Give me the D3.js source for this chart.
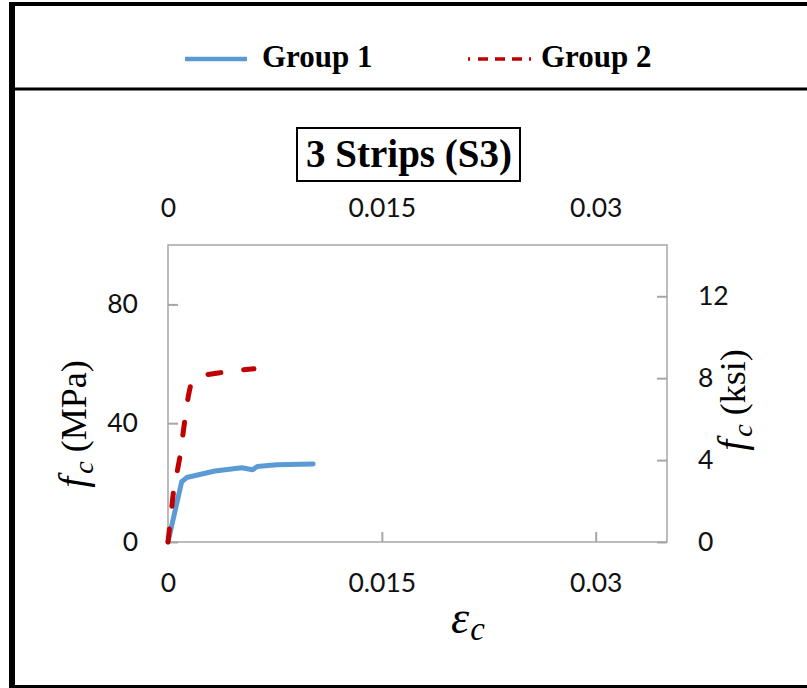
<!DOCTYPE html>
<html>
<head>
<meta charset="utf-8">
<script src="https://cdn.jsdelivr.net/npm/d3@7"></script>
<style>
  html, body { margin: 0; padding: 0; background: #fff; }
  svg { display: block; }
</style>
</head>
<body>
<svg id="chart" width="807" height="688"></svg>
<script>
// ---- Data ----
const seriesNames = ["Group 1", "Group 2"];
const strainG1 = [0, 0.00096, 0.00131, 0.00329, 0.00517, 0.00594, 0.00626, 0.00762, 0.01018];
const stressG1 = [0, 20.3, 21.7, 23.9, 25.0, 24.3, 25.4, 26.0, 26.3];
const strainG2 = [0, 0.00037, 0.00084, 0.00112, 0.00142, 0.00159, 0.00224, 0.00353, 0.00482, 0.00603];
const stressG2 = [0, 16.4, 28.8, 38.9, 49.0, 52.9, 56.0, 56.9, 57.8, 58.3];
const xTicks = [0, 0.015, 0.03];
const xTickLabels = ["0", "0.015", "0.03"];
const yTicksMPa = [0, 40, 80];
const yTicksKsi = [0, 4, 8, 12];
const titleText = "3 Strips (S3)";
const MPA_PER_KSI = 6.895;

// ---- Layout ----
const svg = d3.select("#chart");
const plot = { left: 168, top: 245, right: 667, bottom: 542 };
const x = d3.scaleLinear().domain([0, 0.035]).range([plot.left, plot.right]);
const y = d3.scaleLinear().domain([0, 100]).range([plot.bottom, plot.top]);
const yK = d3.scaleLinear().domain([0, 100 / MPA_PER_KSI]).range([plot.bottom, plot.top]);

const tickFont = "Lato, 'Open Sans', sans-serif";
const serif = "'Liberation Serif', 'Times New Roman', serif";
const axisGray = "#a6a6a6";

// ---- Outer frame ----
svg.append("line").attr("x1", 12).attr("x2", 12).attr("y1", 2).attr("y2", 688)
  .attr("stroke", "#000").attr("stroke-width", 6);
svg.append("line").attr("x1", 9).attr("x2", 807).attr("y1", 4).attr("y2", 4)
  .attr("stroke", "#000").attr("stroke-width", 4);
svg.append("line").attr("x1", 9).attr("x2", 807).attr("y1", 89).attr("y2", 89)
  .attr("stroke", "#000").attr("stroke-width", 3);
svg.append("line").attr("x1", 9).attr("x2", 807).attr("y1", 686.5).attr("y2", 686.5)
  .attr("stroke", "#000").attr("stroke-width", 3);

// ---- Legend ----
const legend = svg.append("g");
legend.append("line").attr("x1", 185).attr("x2", 247).attr("y1", 59).attr("y2", 59)
  .attr("stroke", "#5B9BD5").attr("stroke-width", 4.5);
legend.append("text").attr("x", 262).attr("y", 67).text(seriesNames[0])
  .attr("font-family", serif).attr("font-weight", "bold").attr("font-size", 31).attr("fill", "#000");
legend.append("line").attr("x1", 468).attr("x2", 531).attr("y1", 59).attr("y2", 59)
  .attr("stroke", "#C00000").attr("stroke-width", 3.5).attr("stroke-dasharray", "2,8,10,7,10,7,10,7");
legend.append("text").attr("x", 541).attr("y", 67).text(seriesNames[1])
  .attr("font-family", serif).attr("font-weight", "bold").attr("font-size", 31).attr("fill", "#000");

// ---- Title ----
svg.append("rect").attr("x", 297).attr("y", 128).attr("width", 223).attr("height", 53)
  .attr("fill", "#fff").attr("stroke", "#000").attr("stroke-width", 2);
svg.append("text").attr("x", 409).attr("y", 167).attr("text-anchor", "middle")
  .attr("font-family", serif).attr("font-weight", "bold").attr("font-size", 39)
  .attr("fill", "#000").text(titleText);

// ---- Plot box ----
svg.append("rect").attr("x", plot.left).attr("y", plot.top)
  .attr("width", plot.right - plot.left).attr("height", plot.bottom - plot.top)
  .attr("fill", "none").attr("stroke", axisGray).attr("stroke-width", 1.5);

function styleAxis(g) {
  g.select(".domain").remove();
  g.selectAll(".tick line").attr("stroke", axisGray).attr("stroke-width", 2);
  g.selectAll(".tick text").attr("font-family", tickFont).attr("font-size", 26.5).attr("fill", "#111");
}

svg.append("g").attr("transform", `translate(0,${plot.bottom})`)
  .call(d3.axisBottom(x).tickValues(xTicks).tickFormat((d, i) => xTickLabels[i]).tickSize(-10).tickPadding(31))
  .call(styleAxis);
svg.append("g").attr("transform", `translate(0,${plot.top})`)
  .call(d3.axisTop(x).tickValues(xTicks).tickFormat((d, i) => xTickLabels[i]).tickSize(0).tickPadding(28))
  .call(styleAxis);
svg.append("g").attr("transform", `translate(${plot.left},0)`)
  .call(d3.axisLeft(y).tickValues(yTicksMPa).tickSize(-10).tickPadding(30))
  .call(styleAxis);
svg.append("g").attr("transform", `translate(${plot.right},0)`)
  .call(d3.axisRight(yK).tickValues(yTicksKsi).tickSize(-10).tickPadding(31))
  .call(styleAxis);

// ---- Lines ----
const line = d3.line().x(d => x(d[0])).y(d => y(d[1]));
const g1 = strainG1.map((s, i) => [s, stressG1[i]]);
const g2 = strainG2.map((s, i) => [s, stressG2[i]]);
svg.append("path").datum(g1).attr("d", line).attr("fill", "none")
  .attr("stroke", "#5B9BD5").attr("stroke-width", 5)
  .attr("stroke-linejoin", "round").attr("stroke-linecap", "round");
svg.append("path").datum(g2).attr("d", line).attr("fill", "none")
  .attr("stroke", "#C00000").attr("stroke-width", 5)
  .attr("stroke-dasharray", "13,23").attr("stroke-linecap", "round")
  .attr("stroke-linejoin", "round");

// ---- Axis titles ----
function fcLabel(xc, yc, unit, size) {
  const t = svg.append("text").attr("transform", `translate(${xc},${yc}) rotate(-90)`)
    .attr("text-anchor", "middle").attr("font-family", serif).attr("font-size", size).attr("fill", "#000");
  t.append("tspan").attr("font-style", "italic").attr("font-size", size * 1.1).text("f");
  t.append("tspan").attr("font-style", "italic").attr("font-size", size * 0.78).attr("dy", 7).attr("dx", 3).text("c");
  t.append("tspan").attr("dy", -7).text("\u00a0(" + unit + ")");
  return t;
}
fcLabel(86, 424, "MPa", 36);
fcLabel(745, 400, "ksi", 36);

const xl = svg.append("text").attr("x", 451).attr("y", 633)
  .attr("font-family", serif).attr("font-style", "italic").attr("font-size", 46).attr("fill", "#000");
xl.append("tspan").text("\u03b5");
xl.append("tspan").attr("font-size", 33).attr("dy", 7).attr("dx", 1).text("c");
</script>
</body>
</html>
